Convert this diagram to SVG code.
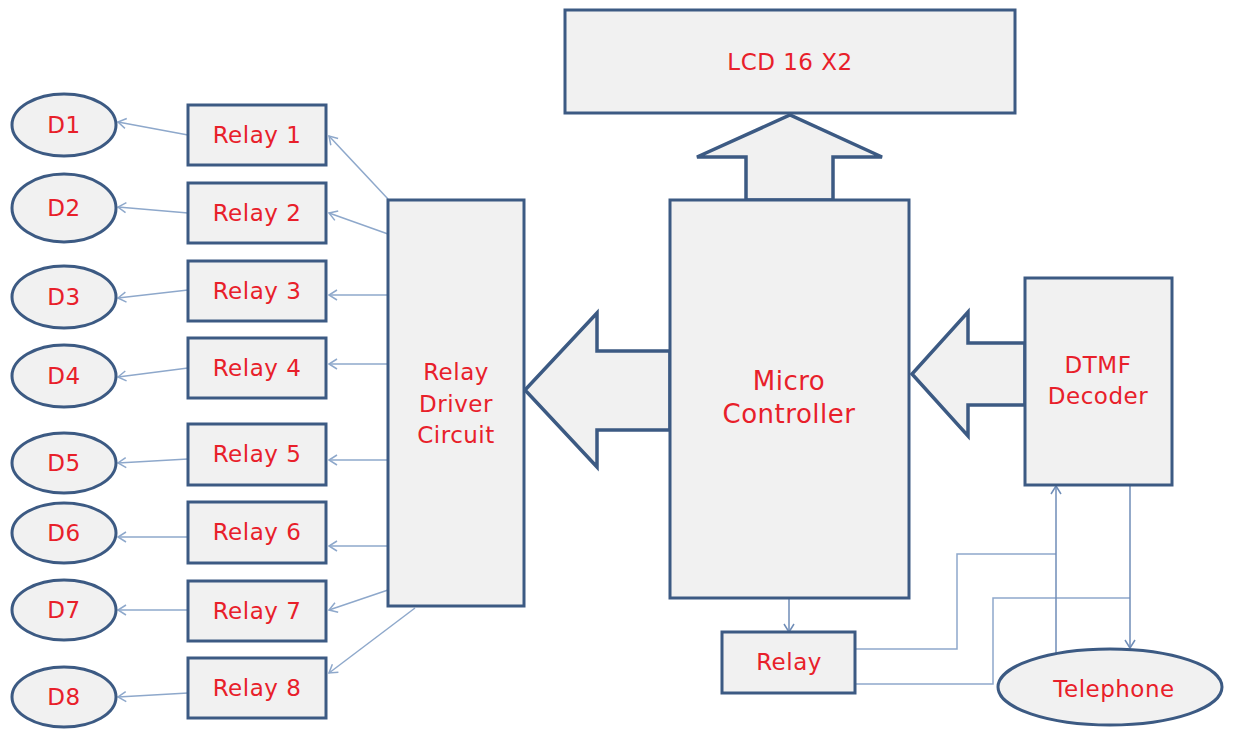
<svg xmlns="http://www.w3.org/2000/svg" width="1234" height="729" viewBox="0 0 1234 729">
<defs>
<style>
.box{fill:#f1f1f1;stroke:#3c5a83;stroke-width:3}
.big{fill:#f1f1f1;stroke:#3c5a83;stroke-width:3.5;stroke-linejoin:miter}
.t{font-family:"DejaVu Sans",Verdana,sans-serif;font-size:23px;fill:#e8202a;text-anchor:middle;letter-spacing:0.5px}
.tb{font-size:26px}
.ln{fill:none;stroke:#8ea8cb;stroke-width:1.5}
.ln2{fill:none;stroke:#6f8db7;stroke-width:1.5}
</style>
<marker id="ah" markerUnits="userSpaceOnUse" markerWidth="14" markerHeight="14" refX="10" refY="6" orient="auto">
<path d="M2,1 L10,6 L2,11" fill="none" stroke="#8ea8cb" stroke-width="1.5"/>
</marker>
<marker id="ah2" markerUnits="userSpaceOnUse" markerWidth="14" markerHeight="14" refX="10" refY="6" orient="auto">
<path d="M2,1 L10,6 L2,11" fill="none" stroke="#6f8db7" stroke-width="1.5"/>
</marker>
</defs>
<rect width="1234" height="729" fill="#ffffff"/>

<g id="connectors">
<line class="ln" x1="388" y1="199" x2="329" y2="136" marker-end="url(#ah)"/>
<line class="ln" x1="388" y1="234" x2="329" y2="213" marker-end="url(#ah)"/>
<line class="ln" x1="388" y1="295" x2="329" y2="295" marker-end="url(#ah)"/>
<line class="ln" x1="388" y1="364" x2="329" y2="364" marker-end="url(#ah)"/>
<line class="ln" x1="388" y1="460" x2="329" y2="460" marker-end="url(#ah)"/>
<line class="ln" x1="388" y1="546" x2="329" y2="546" marker-end="url(#ah)"/>
<line class="ln" x1="388" y1="590" x2="329" y2="610" marker-end="url(#ah)"/>
<line class="ln" x1="415" y1="608" x2="329" y2="673" marker-end="url(#ah)"/>
<line class="ln" x1="188" y1="135" x2="118" y2="122" marker-end="url(#ah)"/>
<line class="ln" x1="188" y1="213" x2="118" y2="207" marker-end="url(#ah)"/>
<line class="ln" x1="188" y1="290" x2="118" y2="298" marker-end="url(#ah)"/>
<line class="ln" x1="188" y1="368" x2="118" y2="377" marker-end="url(#ah)"/>
<line class="ln" x1="188" y1="459" x2="118" y2="463" marker-end="url(#ah)"/>
<line class="ln" x1="200" y1="537" x2="118" y2="537" marker-end="url(#ah)"/>
<line class="ln" x1="188" y1="610" x2="118" y2="610" marker-end="url(#ah)"/>
<line class="ln" x1="188" y1="693" x2="118" y2="697" marker-end="url(#ah)"/>
<line class="ln2" x1="789" y1="598" x2="789" y2="632" marker-end="url(#ah2)"/>
<polyline class="ln" points="855,649 957,649 957,554 1056,554"/>
<polyline class="ln" points="855,684 993,684 993,598 1130,598"/>
<line class="ln2" x1="1056" y1="655" x2="1056" y2="486" marker-end="url(#ah2)"/>
<line class="ln2" x1="1130" y1="486" x2="1130" y2="648" marker-end="url(#ah2)"/>
</g>

<g id="bus-arrows">
<polygon class="big" points="746,200 746,157 697,157 790,115 882,157 833,157 833,200"/>
<polygon class="big" points="670,351 597,351 597,313 525,390 597,467 597,430 670,430"/>
<polygon class="big" points="1025,343 968,343 968,312 912,374 968,436 968,405 1025,405"/>
</g>

<g id="lcd"><rect class="box" x="565" y="10" width="450" height="103"/><text class="t" x="790" y="70">LCD 16 X2</text></g>
<g id="micro-controller"><rect class="box" x="670" y="200" width="239" height="398"/><text class="t tb" x="789" y="390">Micro</text><text class="t tb" x="789" y="423">Controller</text></g>
<g id="dtmf-decoder"><rect class="box" x="1025" y="278" width="147" height="207"/><text class="t" x="1098" y="373">DTMF</text><text class="t" x="1098" y="404">Decoder</text></g>
<g id="relay-driver"><rect class="box" x="388" y="200" width="136" height="406"/><text class="t" x="456" y="380">Relay</text><text class="t" x="456" y="412">Driver</text><text class="t" x="456" y="443">Circuit</text></g>
<g id="relay-main"><rect class="box" x="722" y="632" width="133" height="61"/><text class="t" x="789" y="670">Relay</text></g>
<g id="telephone"><ellipse class="box" cx="1110" cy="687" rx="112" ry="38"/><text class="t" x="1114" y="697">Telephone</text></g>

<g id="relay1"><rect class="box" x="188" y="105" width="138" height="60"/><text class="t" x="257" y="143">Relay 1</text></g>
<g id="relay2"><rect class="box" x="188" y="183" width="138" height="60"/><text class="t" x="257" y="221">Relay 2</text></g>
<g id="relay3"><rect class="box" x="188" y="261" width="138" height="60"/><text class="t" x="257" y="299">Relay 3</text></g>
<g id="relay4"><rect class="box" x="188" y="338" width="138" height="60"/><text class="t" x="257" y="376">Relay 4</text></g>
<g id="relay5"><rect class="box" x="188" y="424" width="138" height="61"/><text class="t" x="257" y="462">Relay 5</text></g>
<g id="relay6"><rect class="box" x="188" y="502" width="138" height="61"/><text class="t" x="257" y="540">Relay 6</text></g>
<g id="relay7"><rect class="box" x="188" y="581" width="138" height="60"/><text class="t" x="257" y="619">Relay 7</text></g>
<g id="relay8"><rect class="box" x="188" y="658" width="138" height="60"/><text class="t" x="257" y="696">Relay 8</text></g>

<g id="d1"><ellipse class="box" cx="64" cy="125" rx="52" ry="31"/><text class="t" x="64" y="133">D1</text></g>
<g id="d2"><ellipse class="box" cx="64" cy="208" rx="52" ry="34"/><text class="t" x="64" y="216">D2</text></g>
<g id="d3"><ellipse class="box" cx="64" cy="297" rx="52" ry="31"/><text class="t" x="64" y="305">D3</text></g>
<g id="d4"><ellipse class="box" cx="64" cy="376" rx="52" ry="31"/><text class="t" x="64" y="384">D4</text></g>
<g id="d5"><ellipse class="box" cx="64" cy="463" rx="52" ry="30"/><text class="t" x="64" y="471">D5</text></g>
<g id="d6"><ellipse class="box" cx="64" cy="533" rx="52" ry="30"/><text class="t" x="64" y="541">D6</text></g>
<g id="d7"><ellipse class="box" cx="64" cy="610" rx="52" ry="30"/><text class="t" x="64" y="618">D7</text></g>
<g id="d8"><ellipse class="box" cx="64" cy="697" rx="52" ry="30"/><text class="t" x="64" y="705">D8</text></g>
</svg>
